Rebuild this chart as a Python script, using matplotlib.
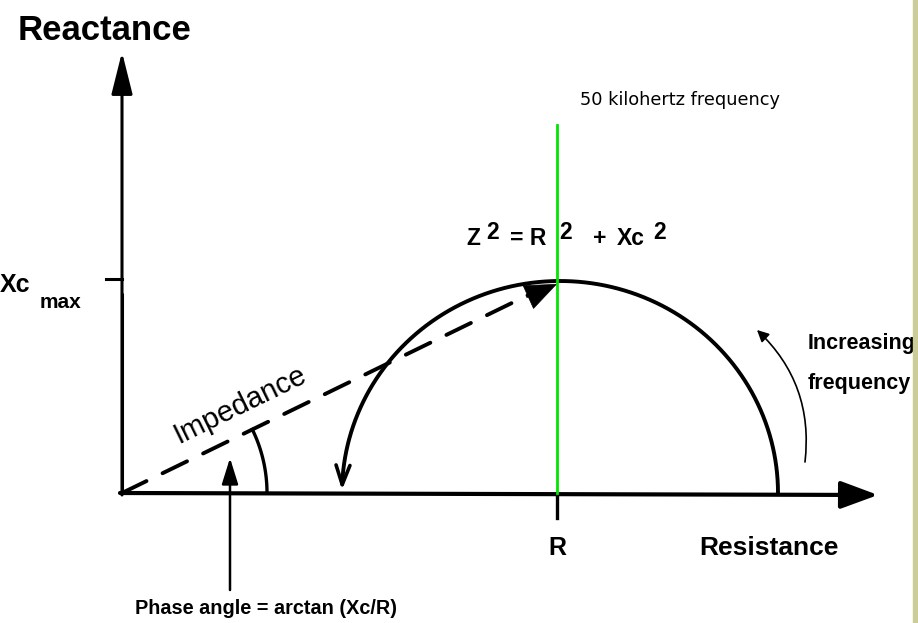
"""
Bioimpedance diagram: reactance vs resistance (Cole plot) with the
50 kHz measurement point, impedance vector and phase angle.
"""

import numpy as np
import matplotlib.pyplot as plt
from matplotlib.patches import FancyArrowPatch, Rectangle

plt.rcParams['font.family'] = ['Liberation Sans', 'DejaVu Sans']

# -------------------------
# Diagram values (pixel-like units, origin at axes corner)
# -------------------------
x_axis_end = 756      # resistance axis length
y_axis_end = 441      # reactance axis length
R_50k = 435           # resistance at 50 kHz
Xc_max = 212          # reactance peak
arc_left = 220        # R at high frequency
arc_right = 656       # R at low frequency
phase_radius = 145

arc_center = (arc_left + arc_right) / 2
arc_rx = (arc_right - arc_left) / 2
phase = np.arctan2(Xc_max, R_50k)

# -------------------------
# Figure
# -------------------------
fig = plt.figure(figsize=(9.18, 6.23), dpi=100)
ax = fig.add_axes([0, 0, 1, 1])
ax.set_xlim(-122, 796)
ax.set_ylim(-130, 493)
ax.axis('off')

# right border strip
fig.patches.append(Rectangle((913 / 918, 0), 5 / 918, 1, transform=fig.transFigure,
                             color='#cccc99', zorder=0))

# axes with filled heads
ax.annotate('', xy=(0, y_axis_end), xytext=(0, -2),
            arrowprops=dict(arrowstyle='-|>,head_length=2.6,head_width=0.65',
                            color='black', lw=2.2, shrinkA=0, shrinkB=0))
ax.annotate('', xy=(x_axis_end, -2), xytext=(-2, 0),
            arrowprops=dict(arrowstyle='-|>,head_length=2.3,head_width=0.85',
                            color='black', lw=3.0, shrinkA=0, shrinkB=0))
ax.plot([0, 0], [0, 200], color='black', lw=2.2, solid_capstyle='butt')

# ticks
ax.plot([-16, 0], [Xc_max + 2, Xc_max + 2], color='black', lw=2.2)
ax.plot([R_50k, R_50k], [0, -25], color='black', lw=2.4)

# 50 kHz line
ax.plot([R_50k, R_50k], [0, 368], color='#00e600', lw=2.0, zorder=4)

# semicircle (high freq on the left, arrow pointing down)
t = np.linspace(0.0, np.pi - 0.06, 200)
ax.plot(arc_center + arc_rx * np.cos(t), Xc_max * np.sin(t),
        color='black', lw=2.8, zorder=3)
t_end = np.pi - 0.06
ax.annotate('', xy=(arc_left, 3),
            xytext=(arc_center + arc_rx * np.cos(t_end), Xc_max * np.sin(t_end)),
            arrowprops=dict(arrowstyle='->,head_length=1.4,head_width=0.5',
                            color='black', lw=2.6, shrinkA=0, shrinkB=0))

# impedance vector (dashed)
ax.plot([0, R_50k * 0.96], [0, Xc_max * 0.96], color='black', lw=2.8,
        dashes=(7, 4.6), dash_capstyle='round')
ax.annotate('', xy=(R_50k, Xc_max - 3), xytext=(R_50k * 0.93, Xc_max * 0.93 - 2),
            arrowprops=dict(arrowstyle='-|>,head_length=2.2,head_width=0.9',
                            color='black', lw=0.5, shrinkA=0, shrinkB=0), zorder=3)

# phase angle arc
ta = np.linspace(0, phase, 50)
ax.plot(phase_radius * np.cos(ta), phase_radius * np.sin(ta), color='black', lw=2.4)

# phase angle pointer
ax.annotate('', xy=(108, 35), xytext=(108, -97),
            arrowprops=dict(arrowstyle='-|>,head_length=1.6,head_width=0.5',
                            color='black', lw=1.8, shrinkA=0, shrinkB=0))

# increasing frequency arrow
arr = FancyArrowPatch((683, 31), (635, 163), connectionstyle='arc3,rad=0.25',
                      arrowstyle='-|>,head_length=7,head_width=3.5',
                      color='black', lw=1.2, shrinkA=0, shrinkB=0)
ax.add_patch(arr)

# -------------------------
# Text
# -------------------------
ax.text(-17, 463, 'Reactance', fontsize=25, fontweight='bold', ha='center', va='center')
ax.text(647, -55, 'Resistance', fontsize=19, fontweight='bold', ha='center', va='center')
ax.text(R_50k, -55, 'R', fontsize=18, fontweight='bold', ha='center', va='center')
ax.text(-122, 208, 'Xc', fontsize=18, fontweight='bold', ha='left', va='center')
ax.text(-82, 190, 'max', fontsize=15, fontweight='bold', ha='left', va='center')
ax.text(144, -115, 'Phase angle = arctan (Xc/R)', fontsize=14.3, fontweight='bold',
        ha='center', va='center')
ax.text(686, 150, 'Increasing', fontsize=15.5, fontweight='bold', ha='left', va='center')
ax.text(686, 110, 'frequency', fontsize=15.5, fontweight='bold', ha='left', va='center')
ax.text(458, 393, '50 kilohertz frequency', fontsize=12.8, family='DejaVu Sans',
        ha='left', va='center')
ax.text(118, 88, 'Impedance', fontsize=21, rotation=26, rotation_mode='anchor',
        ha='center', va='center')

# Z^2 = R^2 + Xc^2
eq = dict(fontsize=16.5, fontweight='bold', va='baseline', ha='left')
ax.text(344, 248, 'Z', **eq)
ax.text(364, 254, '2', **eq)
ax.text(388, 248, '= R', **eq)
ax.text(437, 254, '2', **eq)
ax.text(471, 248, '+', **eq)
ax.text(495, 248, 'Xc', **eq)
ax.text(531, 254, '2', **eq)

fig.savefig('out.png', dpi=100, facecolor='white')
